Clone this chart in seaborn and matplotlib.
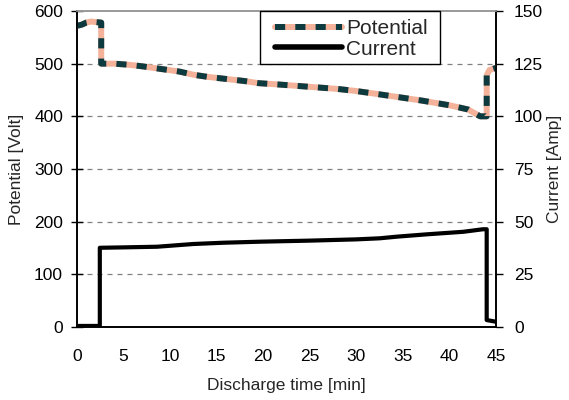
import matplotlib
matplotlib.use("Agg")
import matplotlib.pyplot as plt
import seaborn as sns
import pandas as pd
from matplotlib.lines import Line2D
from matplotlib.patches import Rectangle

# ---- data ----
t_pot = [0, 0.5, 1.0, 1.5, 2.0, 2.6, 2.6, 4, 5.5, 7, 9, 11, 12.5, 14, 16, 18, 19.5,
         22, 25, 28, 30, 32, 34.7, 37, 40, 42, 43.3, 44.0, 44.0, 44.3, 45]
potential = [572, 574, 578, 580, 579, 578, 500, 500, 498, 495, 490, 485, 479, 475, 471,
             467, 463, 460, 456, 452, 448, 443, 436, 430, 421, 413, 400, 400, 478, 488, 492]

t_cur = [0, 2.45, 2.45, 5, 8.6, 12.5, 15.7, 19.7, 25, 30, 32.5, 34.4, 37.6, 41.5,
         43.6, 44.0, 44.0, 45]
current = [0.5, 0.5, 37.6, 37.8, 38.1, 39.4, 40, 40.5, 41.0, 41.6, 42.1, 42.9, 44,
           45.2, 46.4, 46.4, 3.3, 2.5]

x_ticks = [0, 5, 10, 15, 20, 25, 30, 35, 40, 45]
left_ticks = [0, 100, 200, 300, 400, 500, 600]
right_ticks = [0, 25, 50, 75, 100, 125, 150]
series_labels = ["Potential", "Current"]

df_pot = pd.DataFrame({"t": t_pot, "v": potential})
df_cur = pd.DataFrame({"t": t_cur, "i": current})

sns.set_theme(style="white")
plt.rcParams["font.family"] = ["Liberation Sans", "DejaVu Sans"]

SALMON = "#f4b29a"
DARK = "#0d3a3f"
W, H = 569, 400

fig = plt.figure(figsize=(W / 100, H / 100), dpi=100)
ax = fig.add_axes([77 / W, 1 - 327 / H, (496 - 77) / W, (327 - 11) / H])
ax2 = ax.twinx()

# grid
for v in left_ticks[1:-1]:
    ax.axhline(v, color="#808080", lw=0.9, ls=(0, (4, 4)), zorder=0)

sns.lineplot(data=df_pot, x="t", y="v", ax=ax, color=SALMON, linewidth=4.3,
             estimator=None, sort=False, zorder=3)
sns.lineplot(data=df_pot, x="t", y="v", ax=ax, color=DARK, linewidth=4.3,
             estimator=None, sort=False, zorder=4, linestyle=(0, (1.7, 1.7)))
sns.lineplot(data=df_cur, x="t", y="i", ax=ax2, color="black", linewidth=3.0,
             estimator=None, sort=False, zorder=3)

ax.set_xlim(0, 45)
ax.set_ylim(0, 600)
ax2.set_ylim(0, 150)
ax.set_xticks(x_ticks)
ax.set_yticks(left_ticks)
ax2.set_yticks(right_ticks)

LFS = 12.5
ax.set_xlabel("Discharge time [min]", fontsize=LFS, labelpad=10)
ax.set_ylabel("Potential [Volt]", fontsize=LFS, labelpad=7)
ax2.set_ylabel("Current [Amp]", fontsize=LFS, labelpad=3)

for a in (ax, ax2):
    a.grid(False)
    a.tick_params(labelsize=12.5, colors="black", width=1, length=5)
    for s in a.spines.values():
        s.set_color("black")
        s.set_linewidth(1.2)
    a.spines["top"].set_color("#999999")
ax.tick_params(axis="y", direction="inout", length=8, pad=6)
ax.tick_params(axis="x", direction="out", length=5, pad=11)
ax2.tick_params(axis="y", direction="out", length=5, pad=8)
ax.patch.set_visible(False)

# legend frame
frame = Rectangle((260 / W, 1 - 64 / H), 180 / W, 53 / H,
                  transform=fig.transFigure, facecolor="white",
                  edgecolor="black", linewidth=1.0, zorder=4.5, clip_on=False)
ax2.add_patch(frame)
h_pot = (Line2D([], [], color=SALMON, lw=4.3),
         Line2D([], [], color=DARK, lw=4.3, ls=(0, (1.7, 1.7))))
h_cur = Line2D([], [], color="black", lw=4.0)
leg = ax2.legend([h_pot, h_cur], series_labels, loc="upper left",
                 bbox_to_anchor=(275 / W, 1 - 19.5 / H), bbox_transform=fig.transFigure,
                 fontsize=15, frameon=False, handlelength=3.2, handletextpad=0.2,
                 labelspacing=0.05, borderpad=0, borderaxespad=0)
leg.set_zorder(6)

fig.savefig("out.png", dpi=100)
